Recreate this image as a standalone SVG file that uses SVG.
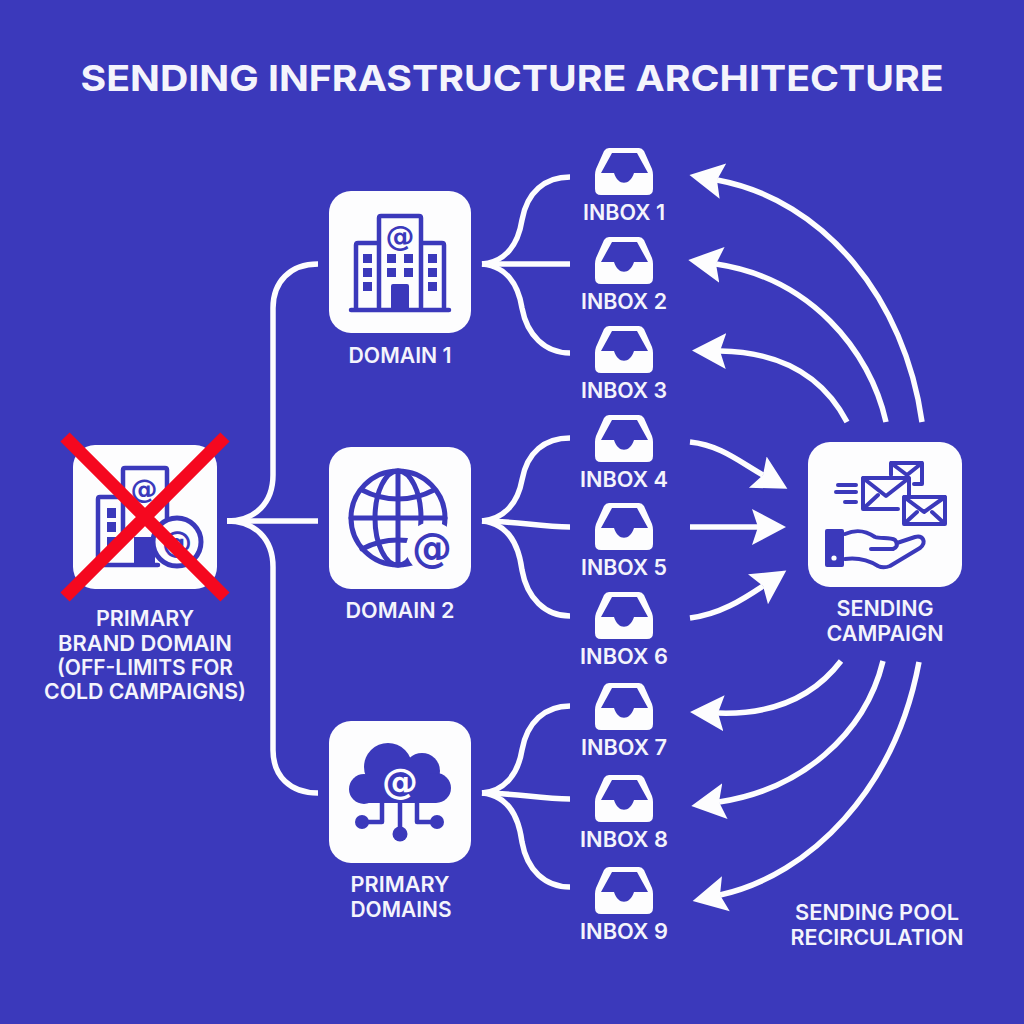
<svg xmlns="http://www.w3.org/2000/svg" xmlns:xlink="http://www.w3.org/1999/xlink" width="1024" height="1024" viewBox="0 0 1024 1024">
<style>
text{font-family:"Inter","Liberation Sans",sans-serif;font-weight:600;fill:#f4f4fc;text-anchor:middle;font-size:21.5px}
.title{font-size:36px;font-weight:700}
.tile{fill:#fdfdfe}
.ln{fill:none;stroke:#fdfdfe;stroke-width:5.5;stroke-linecap:butt}
.ar{fill:none;stroke:#fdfdfe;stroke-width:5.5;stroke-linecap:butt;marker-end:url(#ah)}
.ic{fill:none;stroke:#3b39bb;stroke-width:4.5;stroke-linecap:round;stroke-linejoin:round}
.fl{fill:#3b39bb}
.at{fill:#3b39bb;font-family:"DejaVu Sans",sans-serif;font-weight:700}
.atw{fill:#fdfdfe;font-family:"DejaVu Sans",sans-serif;font-weight:700}
</style>
<defs>
<marker id="ah" markerUnits="userSpaceOnUse" markerWidth="44" markerHeight="44" refX="6" refY="20" orient="auto">
<path d="M0 2L34 20L0 38L6 20Z" fill="#fdfdfe"/>
</marker>
<path id="inbox" fill="#fdfdfe" fill-rule="evenodd" d="M-15 0H15Q18 0 20 3L28 21Q29 24 29 27V41Q29 47 23 47H-23Q-29 47 -29 41V27Q-29 24 -28 21L-20 3Q-18 0 -15 0ZM-12 5L-23 25H-10C-6 38 6 38 10 25H24L13 5Z"/>
</defs>
<rect width="1024" height="1024" fill="#3b39bb"/>
<text class="title" x="512" y="91" textLength="863" lengthAdjust="spacingAndGlyphs">SENDING INFRASTRUCTURE ARCHITECTURE</text>

<g id="connectors">
<path class="ln" d="M227 521C255 521 273 503 273 475V308C273 282 290 264 318 264"/>
<path class="ln" d="M227 521H318"/>
<path class="ln" d="M227 521C255 521 273 539 273 567V750C273 776 290 793 318 793"/>
<path class="ln" d="M482 264C505 262 518 245 522 220C527 192 545 177 570 177"/>
<path class="ln" d="M482 264H570"/>
<path class="ln" d="M482 264C505 266 518 283 522 308C527 335 545 353 570 353"/>
<path class="ln" d="M482 521C505 519 518 502 522 480C527 452 545 438 570 438"/>
<path class="ln" d="M482 521C515 521 540 527 570 527"/>
<path class="ln" d="M482 521C505 523 518 540 522 570C527 598 545 616 570 616"/>
<path class="ln" d="M482 793C505 791 518 774 522 750C527 722 545 706 570 706"/>
<path class="ln" d="M482 793C515 793 540 799 570 799"/>
<path class="ln" d="M482 793C505 795 518 812 522 842C527 870 545 887 570 887"/>
<path class="ar" d="M922 422C905 300 825 200 717 180"/>
<path class="ar" d="M886 422C870 350 810 278 716 264"/>
<path class="ar" d="M847 422C825 380 785 352 720 351"/>
<path class="ar" d="M690 442C720 445 740 462 763 475"/>
<path class="ar" d="M690 527H758"/>
<path class="ar" d="M690 618C720 614 742 600 763 586"/>
<path class="ar" d="M841 661C815 695 775 715 718 713"/>
<path class="ar" d="M883 661C865 735 800 790 719 802"/>
<path class="ar" d="M919 662C895 790 810 875 720 895"/>
</g>

<g id="primary-brand-domain">
<rect class="tile" x="73" y="445" width="144" height="144" rx="22"/>
<path class="ic" d="M123 540V470Q123 468 125 468H165Q167 468 167 470V520M123 497H100Q98 497 98 499V563Q98 565 100 565H158"/>
<path class="fl" d="M107 508h9v10h-9zM107 522h9v10h-9zM107 537h9v10h-9zM134 537h21v28h-21z"/>
<text class="at" x="144" y="498" style="font-size:27px">@</text>
<circle cx="177" cy="542" r="24" fill="#fdfdfe" stroke="#3b39bb" stroke-width="5"/>
<text class="at" x="177" y="553" style="font-size:30px">@</text>
<path d="M65 437L225 597M225 437L65 597" fill="none" stroke="#f5081f" stroke-width="13" stroke-linecap="butt"/>
<text x="145" y="626" textLength="98" lengthAdjust="spacingAndGlyphs">PRIMARY</text>
<text x="145" y="651" textLength="174" lengthAdjust="spacingAndGlyphs">BRAND DOMAIN</text>
<text x="145" y="675" textLength="176" lengthAdjust="spacingAndGlyphs">(OFF-LIMITS FOR</text>
<text x="145" y="699" textLength="202" lengthAdjust="spacingAndGlyphs">COLD CAMPAIGNS)</text>
</g>

<g id="domain-1">
<rect class="tile" x="329" y="191" width="142" height="142" rx="22"/>
<path class="ic" d="M379 308V218Q379 216 381 216H419Q421 216 421 218V308M379 243H358Q356 243 356 245V308M421 243H442Q444 243 444 245V308M351 310H449"/>
<path class="fl" d="M363 254h9v9h-9zM363 268h9v9h-9zM363 282h9v9h-9zM387 254h9v9h-9zM387 268h9v9h-9zM404 254h9v9h-9zM404 268h9v9h-9zM428 254h9v9h-9zM428 268h9v9h-9zM428 282h9v9h-9zM391 286Q391 284 393 284H407Q409 284 409 286V308H391Z"/>
<text class="at" x="400" y="246" style="font-size:29px">@</text>
<text x="400" y="363" textLength="103" lengthAdjust="spacingAndGlyphs">DOMAIN 1</text>
</g>

<g id="domain-2">
<rect class="tile" x="329" y="447" width="142" height="142" rx="22"/>
<g class="ic" style="stroke-width:5">
<circle cx="398" cy="518" r="47"/>
<path d="M398 471V565"/>
<ellipse cx="398" cy="518" rx="23" ry="47"/>
<path d="M351 518H445"/>
<path d="M362 490C385 502 411 502 434 490M362 549C385 537 411 537 434 549"/>
</g>
<circle cx="432" cy="548" r="26" fill="#fdfdfe"/>
<text class="at" x="432" y="562" style="font-size:40px">@</text>
<text x="400" y="618" textLength="109" lengthAdjust="spacingAndGlyphs">DOMAIN 2</text>
</g>

<g id="primary-domains">
<rect class="tile" x="329" y="721" width="142" height="142" rx="22"/>
<g class="fl"><circle cx="388" cy="767" r="24"/><circle cx="422" cy="771" r="18"/><circle cx="436" cy="788" r="15"/><circle cx="364" cy="789" r="15"/><rect x="364" y="775" width="72" height="28"/></g>
<text class="atw" x="400" y="794" style="font-size:36px">@</text>
<g class="ic"><path d="M382 803V822H362M400 803V832M417 803V822H437"/></g>
<circle class="fl" cx="362" cy="822" r="7"/><circle class="fl" cx="400" cy="834" r="7.5"/><circle class="fl" cx="437" cy="822" r="7"/>
<text x="400" y="892" textLength="99" lengthAdjust="spacingAndGlyphs">PRIMARY</text>
<text x="401" y="917" textLength="101" lengthAdjust="spacingAndGlyphs">DOMAINS</text>
</g>

<g id="inboxes">
<g id="inbox-1"><use xlink:href="#inbox" href="#inbox" x="624" y="148"/><text x="624" y="220" textLength="82" lengthAdjust="spacingAndGlyphs">INBOX 1</text></g>
<g id="inbox-2"><use xlink:href="#inbox" href="#inbox" x="624" y="237"/><text x="624" y="309" textLength="86" lengthAdjust="spacingAndGlyphs">INBOX 2</text></g>
<g id="inbox-3"><use xlink:href="#inbox" href="#inbox" x="624" y="326"/><text x="624" y="398" textLength="86" lengthAdjust="spacingAndGlyphs">INBOX 3</text></g>
<g id="inbox-4"><use xlink:href="#inbox" href="#inbox" x="624" y="415"/><text x="624" y="487" textLength="88" lengthAdjust="spacingAndGlyphs">INBOX 4</text></g>
<g id="inbox-5"><use xlink:href="#inbox" href="#inbox" x="624" y="503"/><text x="624" y="575" textLength="86" lengthAdjust="spacingAndGlyphs">INBOX 5</text></g>
<g id="inbox-6"><use xlink:href="#inbox" href="#inbox" x="624" y="592"/><text x="624" y="664" textLength="88" lengthAdjust="spacingAndGlyphs">INBOX 6</text></g>
<g id="inbox-7"><use xlink:href="#inbox" href="#inbox" x="624" y="683"/><text x="624" y="755" textLength="86" lengthAdjust="spacingAndGlyphs">INBOX 7</text></g>
<g id="inbox-8"><use xlink:href="#inbox" href="#inbox" x="624" y="775"/><text x="624" y="847" textLength="88" lengthAdjust="spacingAndGlyphs">INBOX 8</text></g>
<g id="inbox-9"><use xlink:href="#inbox" href="#inbox" x="624" y="867"/><text x="624" y="939" textLength="88" lengthAdjust="spacingAndGlyphs">INBOX 9</text></g>
</g>

<g id="sending-campaign">
<rect class="tile" x="808" y="442" width="154" height="145" rx="22"/>
<g class="ic" style="stroke-width:4">
<path d="M891 475V463H922V484H914M891 463L907 475L922 463"/>
<path d="M898 509H863V478H909V495M863 478L886 496L909 478M864 508L878 495"/>
<path d="M904 497H945V524H904ZM904 497L924 512L945 497M905 523L917 512M944 523L932 512"/>
<path d="M838 485H856M836 492H856M845 502H856"/>
<path d="M845 534C852 531 862 528 875 537C880 539 890 537 895 540C899 545 896 548 893 549H871M897 543L915 537C923 535 927 542 920 548L890 566C885 568 882 568 878 566C870 561 860 557 845 559"/>
</g>
<rect class="fl" x="825" y="529" width="19" height="38" rx="2"/>
<circle cx="834" cy="558" r="2.6" fill="#fdfdfe"/>
<text x="885" y="616" textLength="97" lengthAdjust="spacingAndGlyphs">SENDING</text>
<text x="885" y="641" textLength="117" lengthAdjust="spacingAndGlyphs">CAMPAIGN</text>
</g>

<g id="recirculation-label">
<text x="877" y="920" textLength="164" lengthAdjust="spacingAndGlyphs">SENDING POOL</text>
<text x="877" y="945" textLength="173" lengthAdjust="spacingAndGlyphs">RECIRCULATION</text>
</g>
</svg>
